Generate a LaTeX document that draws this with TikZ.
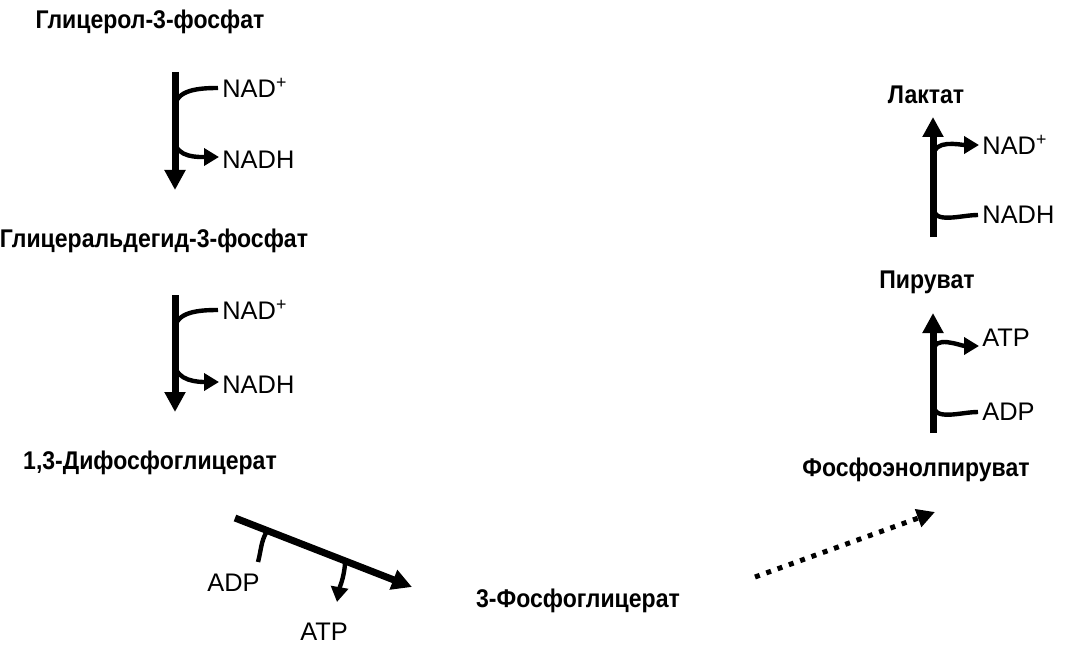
\documentclass[tikz,border=0pt]{standalone}
\usepackage{fontspec}
\setmainfont{Liberation Sans}
\newfontfamily\metfont[FakeStretch=0.9]{Liberation Sans}
\usepackage{tikz}
\usetikzlibrary{arrows.meta, positioning}

\begin{document}
\begin{tikzpicture}[x=0.5pt,y=0.5pt]
				\tikzset{met/.style = {font=\metfont\fontsize{12.8}{14}\selectfont\bfseries, inner sep=0pt}}
				\tikzset{cof/.style = {font=\fontsize{12.7}{14}\selectfont, inner sep=0pt, anchor=west}}
				\tikzset{reac/.style = {line width=3.5pt, -{Triangle[length=10pt,width=10pt]}}}
				\tikzset{side/.style = {line width=2.2pt}}% branch thickness
				\tikzset{sidearr/.style = {side, -{Triangle[length=7.5pt,width=8.5pt]}}}
				\useasboundingbox (0,0) rectangle (1076,644);
				
				\node[met] (g3p) at (150,622) {Глицерол-3-фосфат};
				\node[met] (gap) at (154,403) {Глицеральдегид-3-фосфат};
				\node[met] (bpg) at (150,181) {1,3-Дифосфоглицерат};
				\node[met] (pg3) at (578,43) {3-Фосфоглицерат};
				\node[met] (pep) at (916,174) {Фосфоэнолпируват};
				\node[met] (pyr) at (927,362) {Пируват};
				\node[met] (lac) at (926,549) {Лактат};
				
				\node[cof] (nad1) at (222,556) {NAD\textsuperscript{+}};
				\node[cof] (nadh1) at (222,484) {NADH};
				\node[cof] (nad2) at (222,334) {NAD\textsuperscript{+}};
				\node[cof] (nadh2) at (222,259) {NADH};
				\node[cof] (adp1) at (207,61) {ADP};
				\node[cof] (atp1) at (300,12) {ATP};
				\node[cof] (atp2) at (982,306) {ATP};
				\node[cof] (adp2) at (982,232) {ADP};
				\node[cof] (nad3) at (982,499) {NAD\textsuperscript{+}};
				\node[cof] (nadh3) at (982,429) {NADH};
				
				%%%%%%%%%%%%%%%%%%%%%%%%%%%%%%
				
				\coordinate (s1) at (175,572);
				\coordinate (e1) at (175,454);
				\coordinate (j1) at (175,536);
				\coordinate (k1) at (175,504);
				
				\coordinate (s2) at (175,349);
				\coordinate (e2) at (175,232);
				\coordinate (j2) at (175,314);
				\coordinate (k2) at (175,281);
				
				\coordinate (s3) at (235,126);
				\coordinate (e3) at (412,57);
				\coordinate (j3) at (267,113);
				\coordinate (f3) at (258,82);
				\coordinate (k3) at (345,80);
				\coordinate (t3) at (337,42);
				
				\coordinate (s4) at (755,67);
				\coordinate (e4) at (935,132);
				
				\coordinate (s5) at (933,211);
				\coordinate (e5) at (933,331);
				\coordinate (j5) at (933,240);
				\coordinate (k5) at (933,292);
				
				\coordinate (s6) at (933,407);
				\coordinate (e6) at (933,527);
				\coordinate (j6) at (933,437);
				\coordinate (k6) at (933,487);
				
				%%%%%%%%%%%%%%%%%%%%%%%%%%%%%%
				
				\draw[reac] (s1) -- (e1);
				\draw[side] ([xshift=-2pt]nad1.west) to[out=180,in=90] (j1);
				\draw[sidearr] (k1) to[out=-90,in=180] ([xshift=-1.5pt,yshift=1.5pt]nadh1.west);
				
				\draw[reac] (s2) -- (e2);
				\draw[side] ([xshift=-2pt]nad2.west) to[out=180,in=90] (j2);
				\draw[sidearr] (k2) to[out=-90,in=180] ([xshift=-1.5pt,yshift=1.5pt]nadh2.west);
				
				\draw[reac] (s3) -- (e3);
				\draw[side] (f3) to[out=75,in=-120] (j3);
				\draw[sidearr] (k3) to[out=-95,in=80] (t3);
				
				\draw[line width=2.5pt, dash pattern=on 2.5pt off 3.5pt, -{Triangle[length=9pt,width=9pt]}] (s4) -- (e4);
				
				\draw[reac] (s5) -- (e5);
				\draw[side] ([xshift=-2pt]adp2.west) to[out=180,in=-90] (j5);
				\draw[sidearr] (k5) to[out=90,in=180] ([xshift=-1.5pt,yshift=-4pt]atp2.west);
				
				\draw[reac] (s6) -- (e6);
				\draw[side] ([xshift=-2pt]nadh3.west) to[out=180,in=-90] (j6);
				\draw[sidearr] (k6) to[out=90,in=180] ([xshift=-1.5pt]nad3.west);
				
\end{tikzpicture}
\end{document}
